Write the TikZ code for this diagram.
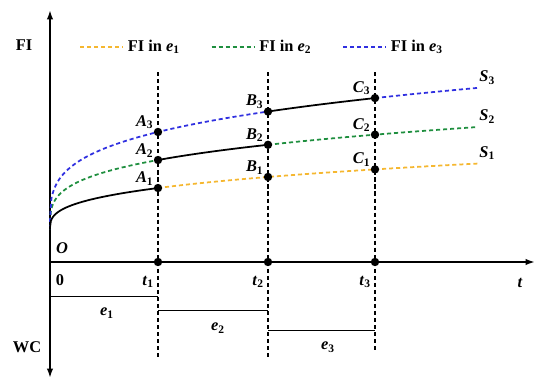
\documentclass[tikz,border=0pt]{standalone}
\usepackage{fontspec}
\setmainfont{Liberation Serif}
\usetikzlibrary{arrows.meta}
\definecolor{fiyellow}{RGB}{245,183,48}
\definecolor{figreen}{RGB}{31,143,63}
\definecolor{fiblue}{RGB}{48,48,224}
\newcommand{\ilab}[2]{\textbf{\textit{#1}}\textsubscript{\textbf{#2}}}
\begin{document}
\begin{tikzpicture}[x=0.3cm, y=0.3cm, font=\fontsize{14}{16}\selectfont\bfseries,
    axis/.style={line width=2pt, -{Latex[length=8pt,width=5.5pt]}},
    curve/.style={line width=1.5pt},
    dcurve/.style={line width=1.5pt, dash pattern=on 3.5pt off 2.5pt},
    guide/.style={line width=1pt, dash pattern=on 3.5pt off 2.5pt},
    bar/.style={line width=1.1pt},
    declare function={fa(\x)=3.3+1.825*\x^0.34; fb(\x)=3.3+3.51*\x^0.284; fc(\x)=3.3+5.08*\x^0.272;}]
    \useasboundingbox (-5,-12.7) rectangle (50,26.2);
    % axes
    \draw[axis] (0,0) -- (48.5,0);
    \draw[axis, {Latex[length=8pt,width=5.5pt]}-{Latex[length=8pt,width=5.5pt]}] (0,-11.6) -- (0,25.2);
    \node (labFI) at (-2.6,21.7) {FI};
    \node (labWC) at (-2.3,-8.5) {WC};
    \node (labO) at (1.2,1.4) {\textit{O}};
    \node (lab0) at (1.0,-1.8) {0};
    \node (labt) at (47,-2.1) {\textit{t}};
    % time marks
    \foreach \n/\u/\b in {1/10.8/-9.5, 2/21.8/-9.5, 3/32.5/-9.0} {
        \coordinate (t\n) at (\u,0);
        \draw[guide] (\u,19) -- (\u,\b);
        \fill (t\n) circle (0.42);
        \node (labt\n) at (\u-1.0,-2.0) {\ilab{t}{\n}};
    }
    % episodes
    \draw[bar] (0,-3.47) -- (10.8,-3.47);
    \draw[bar] (10.8,-4.87) -- (21.8,-4.87);
    \draw[bar] (21.8,-6.87) -- (32.5,-6.87);
    \node (labe1) at (5.7,-5.1) {\ilab{e}{1}};
    \node (labe2) at (16.8,-6.6) {\ilab{e}{2}};
    \node (labe3) at (27.8,-8.5) {\ilab{e}{3}};
    % FI curves
    \draw[dcurve, fiyellow] plot[smooth, samples=80, domain=10.8:42.8] (\x,{fa(\x)});
    \draw[dcurve, figreen] (0,3.3) -- plot[smooth, samples=120, domain=0.001:10.8] (\x,{fb(\x)});
    \draw[dcurve, figreen] plot[smooth, samples=80, domain=21.8:42.8] (\x,{fb(\x)});
    \draw[dcurve, fiblue] (0,3.3) -- plot[smooth, samples=160, domain=0.001:21.8] (\x,{fc(\x)});
    \draw[dcurve, fiblue] plot[smooth, samples=40, domain=32.5:42.8] (\x,{fc(\x)});
    \draw[curve] (0,3.3) -- plot[smooth, samples=120, domain=0.001:10.8] (\x,{fa(\x)});
    \draw[curve] plot[smooth, samples=60, domain=10.8:21.8] (\x,{fb(\x)});
    \draw[curve] plot[smooth, samples=60, domain=21.8:32.5] (\x,{fc(\x)});
    % points on the curves
    \foreach \p/\u in {A/10.8, B/21.8, C/32.5} {
        \coordinate (\p1) at (\u,{fa(\u)});
        \coordinate (\p2) at (\u,{fb(\u)});
        \coordinate (\p3) at (\u,{fc(\u)});
    }
    \foreach \p in {A,B,C}
        \foreach \i in {1,2,3} {
            \fill (\p\i) circle (0.42);
            \node[above left, xshift=-0.5pt, yshift=-1pt] (lab\p\i) at (\p\i) {\ilab{\p}{\i}};
        }
    % curve names
    \coordinate (S1) at (42.8,{fa(42.8)});
    \coordinate (S2) at (42.8,{fb(42.8)});
    \coordinate (S3) at (42.8,{fc(42.8)});
    \foreach \i in {1,2,3}
        \node[above right, inner sep=1pt, yshift=2pt] (labS\i) at (S\i) {\ilab{S}{\i}};
    % legend
    \foreach \c/\i [count=\k from 0] in {fiyellow/1, figreen/2, fiblue/3} {
        \coordinate (leg\i) at (3.0+13.15*\k,21.5);
        \draw[dcurve, \c] (leg\i) -- ++(4.3,0) node[right, black] (lableg\i) {FI in \ilab{e}{\i}};
    }
\end{tikzpicture}
\end{document}
